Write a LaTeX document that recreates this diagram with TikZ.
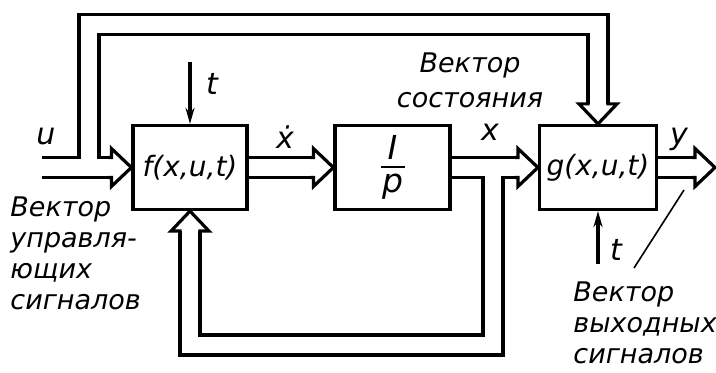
\documentclass[tikz,border=0pt]{standalone}
\usepackage{fontspec}
\setmainfont{DejaVu Sans}
\usetikzlibrary{arrows.meta}

\tikzset{
  block/.style={draw, line width=1.6pt, minimum height=42pt, inner sep=0pt,
    font=\itshape\fontsize{14}{16}\selectfont},
  band/.style={double, line width=1.6pt, double distance=8.4pt},
  openhead/.pic={\draw[line width=1.6pt] (-23,10) -- (-20,10) -- (-20,19) -- (0,0)
    -- (-20,-19) -- (-20,-10) -- (-23,-10);},
  sig/.style={line width=2pt, -{Stealth[length=8pt,width=4.5pt]}},
  lbl/.style={inner sep=0pt, font=\itshape\fontsize{13.5}{15.5}\selectfont},
  var/.style={inner sep=0pt, font=\itshape\fontsize{15}{18}\selectfont},
}

\begin{document}
\begin{tikzpicture}[x=0.5pt, y=-0.5pt]
  \useasboundingbox (0,0) rectangle (716,373);

  %blocks
  \node[block, minimum width=57pt] (f) at (190,167.5) {f(x,u,t)};
  \node[block, minimum width=57.5pt] (p) at (392.5,167.5)
    {\fontsize{16.5}{18}\selectfont$\vcenter{\hbox to 12pt{\hss\textit{I}\hss}\kern3pt
      \hrule height 1.2pt\kern3pt\hbox to 12pt{\hss\textit{p}\hss}}$\hspace{6.5pt}};
  \node[block, minimum width=58.5pt] (g) at (598,167.5) {g(x,u,t)};

  %control input u, and its branch over the top into g
  \coordinate (uin) at (42,167.5);
  \coordinate (ubr) at (89,159.1);
  \coordinate (utop) at (89,24.5);
  \draw[band, shorten >=10pt] (uin) -- (f.west);
  \pic at (f.west) {openhead};
  \draw[band, shorten >=10pt] (ubr) -- (utop) -| (g.north);
  \pic[rotate=-90] at (g.north) {openhead};

  %x dot
  \draw[band, shorten >=10pt] (f.east) -- (p.west);
  \pic at (p.west) {openhead};

  %state x, and the loop back under f
  \draw[band, shorten >=10pt] (p.east) -- (g.west);
  \pic at (g.west) {openhead};
  \coordinate (xbr) at (493,175.9);
  \coordinate (xlow) at (493,345);
  \draw[band, shorten >=10pt] (xbr) -- (xlow) -| (f.south);
  \pic[rotate=90] at (f.south) {openhead};

  %output y
  \coordinate (yout) at (715,167.5);
  \draw[band, shorten >=10pt] (g.east) -- (yout);
  \pic at (yout) {openhead};

  %time
  \coordinate (tf) at (190,62);
  \draw[sig] (tf) -- (f.north);
  \node[var] (tf lab) at (212,84) {t};
  \coordinate (tg) at (598,264);
  \draw[sig] (tg) -- (g.south);
  \node[var] (tg lab) at (616,250) {t};

  %signal names
  \node[var] (u) at (46,137) {u};
  \node[var] (xd) at (285,137) {ẋ};
  \node[var] (x) at (490,132) {x};
  \node[var] (y) at (679,139) {y};

  %captions
  \node[lbl, align=center, font=\itshape\fontsize{13.5}{17.5}\selectfont] (state) at (470,80) {Вектор\\состояния};
  \node[lbl, align=left, anchor=north west] (ulab) at (10,196) {Вектор\\управля-\\ющих\\сигналов};
  \node[lbl, align=left, anchor=north west] (ylab) at (573,281) {Вектор\\выходных\\сигналов};
  \coordinate (lead) at (634,268);
  \coordinate (ylead) at (684,190);
  \draw[line width=0.8pt] (lead) -- (ylead);
\end{tikzpicture}
\end{document}
